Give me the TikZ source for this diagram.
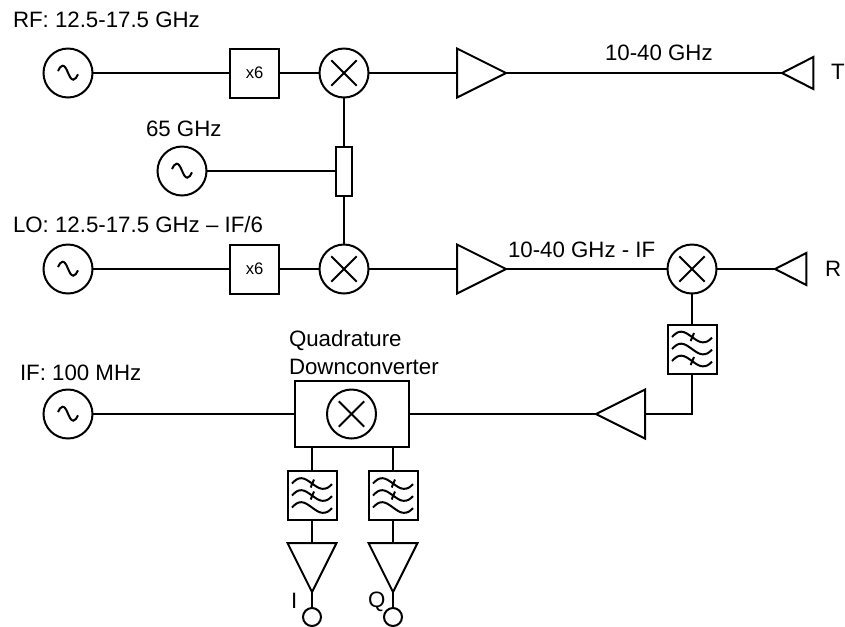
\documentclass[tikz,border=0pt]{standalone}
\usepackage{fontspec}
\setmainfont{Liberation Sans}
\usetikzlibrary{shapes.geometric,positioning}
\tikzstyle{lbl}=[font=\fontsize{16.7}{21}\selectfont,anchor=west,inner sep=0pt,align=left]
\tikzstyle{block}=[draw,rectangle,inner sep=0pt,outer sep=0pt,minimum size=36.75pt]
\tikzstyle{osc}=[draw,circle,inner sep=0pt,outer sep=0pt,minimum size=36.75pt,
    path picture={\draw ([shift={(-7.5pt,1.5pt)}]path picture bounding box.center)
      .. controls +(1pt,2pt) and +(-1.5pt,0pt) .. ([shift={(-4pt,5.5pt)}]path picture bounding box.center)
      .. controls +(3.5pt,0pt) and +(-3.5pt,0pt) .. ([shift={(4pt,-5pt)}]path picture bounding box.center)
      .. controls +(1.5pt,0pt) and +(-1pt,-2pt) .. ([shift={(7.5pt,-1pt)}]path picture bounding box.center);}]
\tikzstyle{mixer}=[draw,circle,inner sep=0pt,outer sep=0pt,minimum size=#1,
    path picture={\draw ([shift={(-9.5pt,-9.5pt)}]path picture bounding box.center) -- ([shift={(9.5pt,9.5pt)}]path picture bounding box.center);
      \draw ([shift={(-9.5pt,9.5pt)}]path picture bounding box.center) -- ([shift={(9.5pt,-9.5pt)}]path picture bounding box.center);}]
\tikzstyle{filter}=[block,
    path picture={\foreach \k in {9,0,-9} {
        \draw ([shift={(-15pt,\k pt)}]path picture bounding box.center)
          .. controls +(2.5pt,2.5pt) and +(-3pt,0pt) .. ([shift={(-8pt,\k pt+4pt)}]path picture bounding box.center)
          .. controls +(5pt,0pt) and +(-5pt,0pt) .. ([shift={(8pt,\k pt-4pt)}]path picture bounding box.center)
          .. controls +(3pt,0pt) and +(-2.5pt,-2.5pt) .. ([shift={(15pt,\k pt-.5pt)}]path picture bounding box.center);}
      \foreach \k in {#1} {
        \draw ([shift={(-1pt,\k pt-3pt)}]path picture bounding box.center) -- ([shift={(1.5pt,\k pt+3pt)}]path picture bounding box.center);}}]
\tikzstyle{amp}=[draw,isosceles triangle,isosceles triangle stretches,inner sep=0pt,outer sep=0pt,
    minimum width=36.75pt,minimum height=36.75pt]
\tikzstyle{ant}=[amp,minimum width=24pt,minimum height=23.5pt,shape border rotate=180,anchor=apex]
\begin{document}
\begin{tikzpicture}[x=.75pt,y=-.75pt,line width=1.5pt]
    \useasboundingbox (0,0) rectangle (845,626);

    % transmit row
    \node[osc]   (rfosc) at (68,73) {};
    \node[block] (rfx) [right of=rfosc,node distance=140pt] {\fontsize{12.5}{14}\selectfont x6};
    \node[mixer=36.75pt] (rfmix) [right of=rfx,node distance=67pt] {};
    \node[amp,anchor=apex] (rfamp) at (506,73) {};
    \node[ant] (tant) at (782,73) {};

    % local oscillator row
    \node[osc]   (looc) at (68,269) {};
    \node[block] (lox) [right of=looc,node distance=140pt] {\fontsize{12.5}{14}\selectfont x6};
    \node[mixer=36.75pt] (lomix) [right of=lox,node distance=67pt] {};
    \node[amp,anchor=apex] (loamp) at (506,269) {};
    \node[mixer=36.75pt] (rxmix) at (692,269) {};
    \node[ant] (rant) at (775,269) {};

    % 65 GHz feed
    \node[block,minimum width=12pt] (coup) [below of=rfmix,node distance=73.5pt] {};
    \node[osc] (mmosc) at (182,171) {};

    % receive chain
    \node[filter={9,-9}] (rxfilt) at (692,349) {};
    \node[amp,shape border rotate=180,anchor=apex] (bbamp) at (596,414) {};
    \node[block,minimum width=85.5pt,minimum height=49.5pt] (qdc) at (351.5,414) {};
    \node[mixer=36.75pt] (qmix) at (351.5,414) {};
    \node[osc] (ifosc) at (68,414) {};
    \node[filter={9,0}] (ifilt) at (312,495.5) {};
    \node[filter={9,0}] (qfilt) at (393,495.5) {};
    \node[amp,shape border rotate=270,anchor=apex] (iamp) at (312,592) {};
    \node[amp,shape border rotate=270,anchor=apex] (qamp) at (393,592) {};
    \node[draw,circle,inner sep=0pt,outer sep=0pt,minimum size=13.5pt] (iout) at (312,617) {};
    \node[draw,circle,inner sep=0pt,outer sep=0pt,minimum size=13.5pt] (qout) at (393,617) {};

    % labels
    \node[lbl] (rflbl) at (12,20) {RF: 12.5-17.5 GHz};
    \node[lbl] (mmlbl) at (145,129) {65 GHz};
    \node[lbl] (txlbl) at (604,53) {10-40 GHz};
    \node[lbl] (tlbl) at (830,72) {T};
    \node[lbl] (lolbl) at (12,225) {LO: 12.5-17.5 GHz -- IF/6};
    \node[lbl] (rxlbl) at (507,250) {10-40 GHz - IF};
    \node[lbl] (rlbl) at (824,269) {R};
    \node[lbl] (iflbl) at (19,373) {IF: 100 MHz};
    \node[lbl] (qdclbl) at (288,353) {Quadrature\\Downconverter};
    \node[lbl] (ilbl) at (290,601) {I};
    \node[lbl] (qlbl) at (367,602) {Q};

    \path[draw] (rfosc) -- (rfx) (rfx) -- (rfmix) (rfmix) -- (rfamp.lower side) (rfamp.apex) -- (tant.apex);
    \path[draw] (looc) -- (lox) (lox) -- (lomix) (lomix) -- (loamp.lower side) (loamp.apex) -- (rxmix) (rxmix) -- (rant.apex);
    \path[draw] (rfmix) -- (coup) (coup) -- (lomix) (mmosc) -- (coup);
    \path[draw] (rxmix) -- (rxfilt) (rxfilt.south) |- (bbamp.lower side);
    \path[draw] (bbamp.apex) -- (qdc.east |- bbamp.apex) (ifosc) -- (qdc);
    \path[draw] (ifilt |- qdc.south) -- (ifilt) (qfilt |- qdc.south) -- (qfilt);
    \path[draw] (ifilt) -- (iamp.lower side) (iamp.apex) -- (iout);
    \path[draw] (qfilt) -- (qamp.lower side) (qamp.apex) -- (qout);

\end{tikzpicture}
\end{document}
